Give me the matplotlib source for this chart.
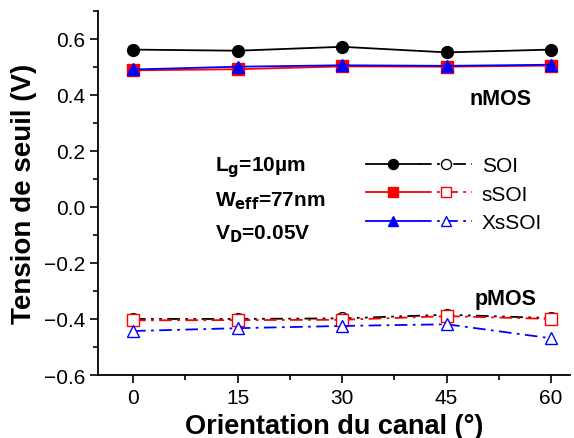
import matplotlib
matplotlib.use('Agg')
import matplotlib.pyplot as plt
from matplotlib.legend_handler import HandlerTuple
from matplotlib.ticker import MultipleLocator

plt.rcParams['font.family'] = ['Liberation Sans', 'DejaVu Sans']
plt.rcParams['mathtext.default'] = 'regular'

angle = [0, 15, 30, 45, 60]

# nMOS (filled, solid)
n_soi = [0.561, 0.557, 0.571, 0.551, 0.561]
n_ssoi = [0.487, 0.491, 0.501, 0.500, 0.504]
n_xssoi = [0.490, 0.500, 0.505, 0.503, 0.507]

# pMOS (open, dash-dot)
p_soi = [-0.400, -0.400, -0.398, -0.385, -0.397]
p_ssoi = [-0.405, -0.404, -0.403, -0.390, -0.400]
p_xssoi = [-0.443, -0.433, -0.425, -0.419, -0.469]

names = ['SOI', 'sSOI', 'XsSOI']
colors = ['black', 'red', 'blue']
markers = ['o', 's', '^']
p_styles = [(0, (7, 3, 1.5, 3, 1.5, 3)), (0, (7, 3, 1.5, 3)), (0, (7, 3, 1.5, 3))]

fig = plt.figure(figsize=(5.74, 4.39), dpi=100)
ax = fig.add_axes([0.171, 0.1435, 0.822, 0.83])

handles = []
for ny, py, name, c, m, ls in zip([n_soi, n_ssoi, n_xssoi], [p_soi, p_ssoi, p_xssoi],
                                  names, colors, markers, p_styles):
    h1, = ax.plot(angle, ny, color=c, marker=m, ms=8.5, lw=1.3, mfc=c, mec=c)
    h2, = ax.plot(angle, py, color=c, marker=m, ms=8.5, lw=1.3, ls=ls,
                  mfc='white', mec=c)
    handles.append((h1, h2))

ax.set_xlim(-5, 62.7)
ax.set_ylim(-0.6, 0.7)
ax.set_xticks(angle)
ax.set_yticks([-0.6, -0.4, -0.2, 0.0, 0.2, 0.4, 0.6])
ax.xaxis.set_minor_locator(MultipleLocator(7.5))
ax.yaxis.set_minor_locator(MultipleLocator(0.1))
ax.tick_params(which='major', direction='out', length=6, width=1.2, labelsize=15)
ax.tick_params(which='minor', direction='out', length=3.5, width=1.2)
for s in ['top', 'right']:
    ax.spines[s].set_visible(False)
for s in ['left', 'bottom']:
    ax.spines[s].set_linewidth(1.3)

ax.set_xlabel('Orientation du canal (°)', fontsize=19.5, fontweight='bold', labelpad=4)
ax.set_ylabel('Tension de seuil (V)', fontsize=20, fontweight='bold', labelpad=5)

ax.text(0.788, 0.745, 'nMOS', transform=ax.transAxes, fontsize=15.5, fontweight='bold')
ax.text(0.797, 0.195, 'pMOS', transform=ax.transAxes, fontsize=15.5, fontweight='bold')
ax.text(0.248, 0.56, r'L$_\mathbf{g}$=10µm', transform=ax.transAxes, fontsize=15, fontweight='bold')
ax.text(0.248, 0.464, r'W$_\mathbf{eff}$=77nm', transform=ax.transAxes, fontsize=15, fontweight='bold')
ax.text(0.248, 0.374, r'V$_\mathbf{D}$=0.05V', transform=ax.transAxes, fontsize=15, fontweight='bold')

ax.legend(handles, names, handler_map={tuple: HandlerTuple(ndivide=None, pad=0.0)},
          loc='upper left', bbox_to_anchor=(0.568, 0.60), frameon=False, fontsize=15,
          handlelength=5.1, handletextpad=0.45, labelspacing=0.45, markerscale=0.85,
          borderpad=0, borderaxespad=0)

fig.savefig('out.png', dpi=100)
